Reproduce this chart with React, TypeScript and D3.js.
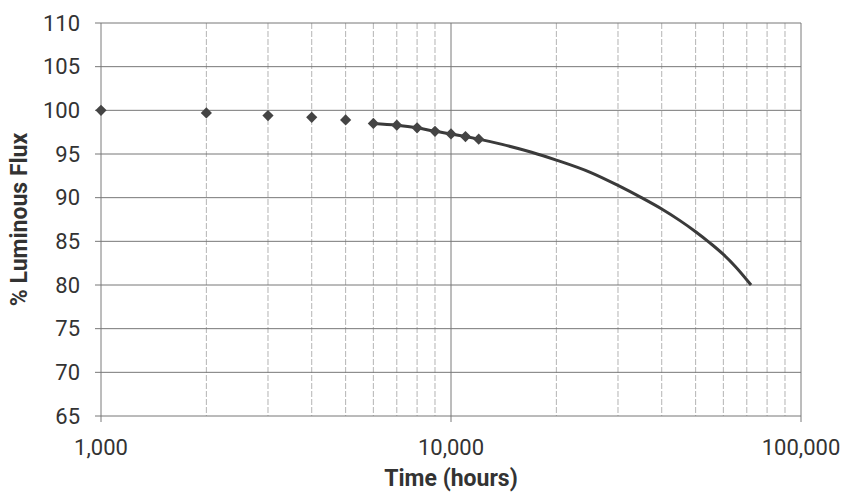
import * as d3 from "d3";

// marker readings (hours, % flux)
const markerHours = [1000, 2000, 3000, 4000, 5000, 6000, 7000, 8000, 9000, 10000, 11000, 12000];
const markerFlux = [100, 99.7, 99.4, 99.2, 98.9, 98.5, 98.3, 98.0, 97.6, 97.3, 97.0, 96.7];

// projected curve
const curveHours = [
  6000, 7000, 8000, 9000, 10000, 11000, 12000, 14000, 17000, 20000, 25000,
  30000, 35000, 40000, 45000, 50000, 55000, 60000, 65000, 72000,
];
const curveFlux = [
  98.5, 98.3, 98.0, 97.6, 97.3, 97.0, 96.7, 96.1, 95.2, 94.3, 92.9,
  91.4, 90.0, 88.7, 87.4, 86.1, 84.8, 83.5, 82.1, 80.0,
];

const yTicks = [65, 70, 75, 80, 85, 90, 95, 100, 105, 110];
const xMajor = [1000, 10000, 100000];
const xMinor = [2000, 3000, 4000, 5000, 6000, 7000, 8000, 9000, 20000, 30000, 40000, 50000, 60000, 70000, 80000, 90000];

const W = 843;
const H = 494;
const margin = { left: 101, right: 42, top: 23, bottom: 78 };

export default function App() {
  const x = d3
    .scaleLog()
    .domain([1000, 100000])
    .range([margin.left, W - margin.right]);
  const y = d3
    .scaleLinear()
    .domain([65, 110])
    .range([H - margin.bottom, margin.top]);

  const fmt = d3.format(",");
  const textColor = "#333";
  const font = "Roboto, 'DejaVu Sans', sans-serif";

  const line = d3
    .line<number>()
    .x((_, i) => x(curveHours[i]))
    .y((d) => y(d))
    .curve(d3.curveMonotoneX);

  const diamond = d3.symbol(d3.symbolDiamond2, 80)();

  const bottom = y(65);
  const top = y(110);
  const left = x(1000);
  const right = x(100000);

  return (
    <svg
      width={W}
      height={H}
      style={{ position: "absolute", left: 0, top: 0, background: "#fff" }}
      fontFamily={font}
    >
      <rect width={W} height={H} fill="#fff" />

      {/* minor vertical grid */}
      {xMinor.map((v) => (
        <line
          key={"mn" + v}
          x1={x(v)}
          x2={x(v)}
          y1={top}
          y2={bottom}
          stroke="#b4b4b4"
          strokeWidth={1}
          strokeDasharray="6,2"
        />
      ))}
      {/* major vertical grid + ticks */}
      {xMajor.map((v) => (
        <line
          key={"mj" + v}
          x1={x(v)}
          x2={x(v)}
          y1={top}
          y2={bottom + 6}
          stroke="#7a7a7a"
          strokeWidth={1}
        />
      ))}
      {/* horizontal grid + ticks */}
      {yTicks.map((v) => (
        <line
          key={"h" + v}
          x1={left - 6}
          x2={right}
          y1={y(v)}
          y2={y(v)}
          stroke="#777"
          strokeWidth={1}
        />
      ))}

      {/* y tick labels */}
      {yTicks.map((v) => (
        <text
          key={"yl" + v}
          x={left - 21}
          y={y(v)}
          dy="0.35em"
          textAnchor="end"
          fontSize={22}
          fill={textColor}
        >
          {v}
        </text>
      ))}
      {/* x tick labels */}
      {xMajor.map((v) => (
        <text
          key={"xl" + v}
          x={x(v)}
          y={bottom + 39}
          textAnchor="middle"
          fontSize={22}
          fill={textColor}
        >
          {fmt(v)}
        </text>
      ))}

      {/* projected curve */}
      <path
        d={line(curveFlux) ?? ""}
        fill="none"
        stroke="#3a3a3a"
        strokeWidth={3}
      />
      {markerHours.map((h, i) => (
        <path
          key={"m" + h}
          d={diamond ?? ""}
          transform={`translate(${x(h)},${y(markerFlux[i])})`}
          fill="#444"
        />
      ))}

      {/* axis titles */}
      <text
        x={(left + right) / 2}
        y={H - 8}
        textAnchor="middle"
        fontSize={23}
        fontWeight="bold"
        fill={textColor}
      >
        Time (hours)
      </text>
      <text
        transform={`translate(27,${(top + bottom) / 2}) rotate(-90)`}
        textAnchor="middle"
        fontSize={23}
        fontWeight="bold"
        fill={textColor}
      >
        % Luminous Flux
      </text>
    </svg>
  );
}
